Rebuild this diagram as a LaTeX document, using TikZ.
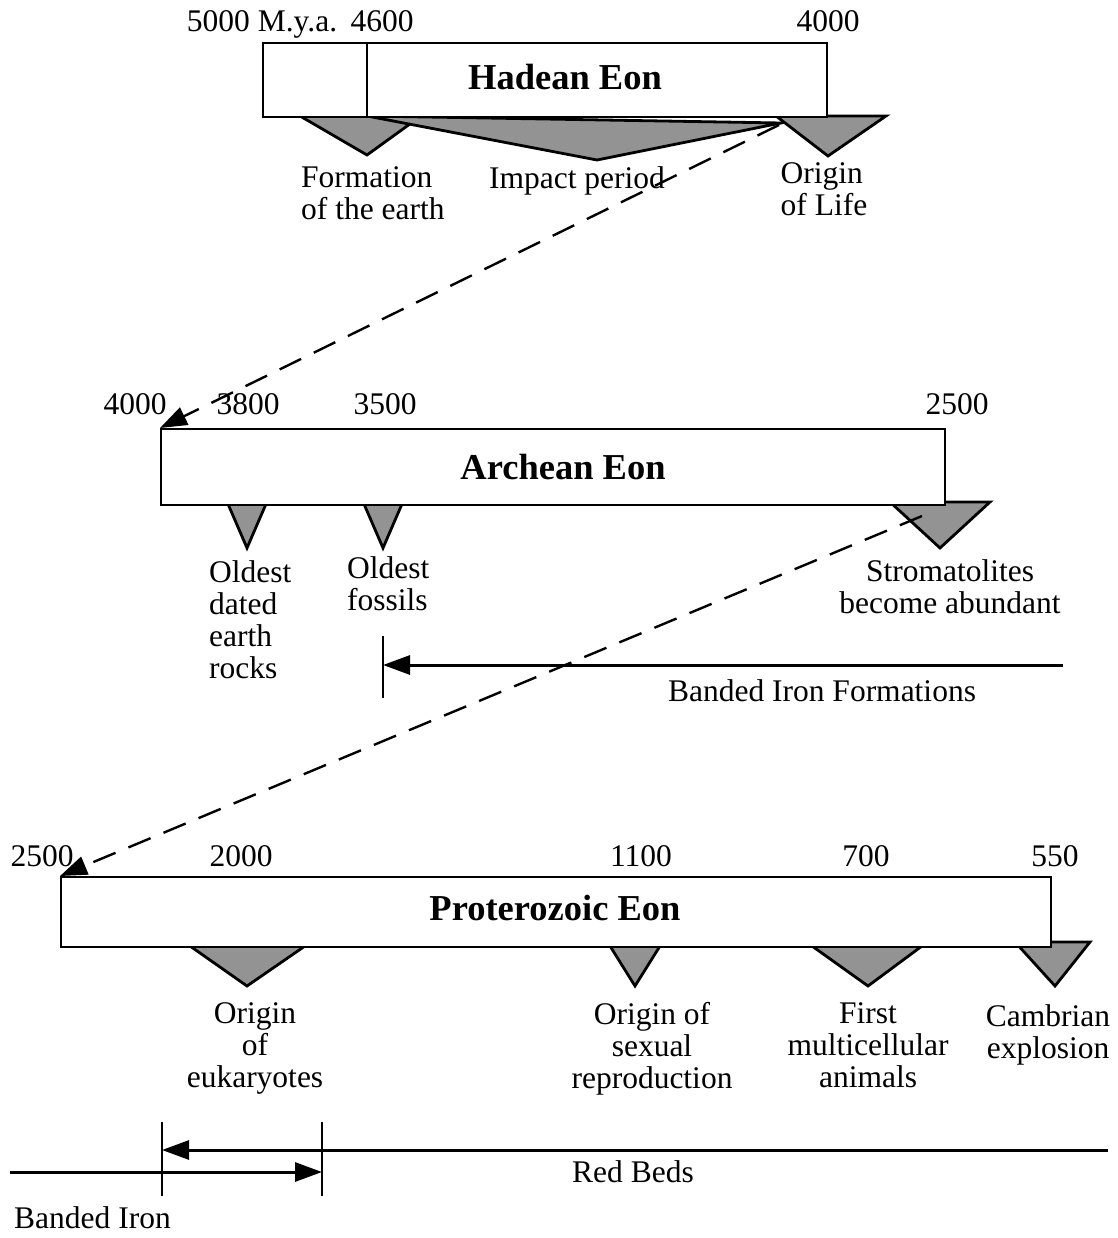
\documentclass[tikz,border=0pt]{standalone}
\usepackage{fontspec}
\setmainfont{Liberation Serif}
\usetikzlibrary{arrows.meta}
\begin{document}
\begin{tikzpicture}[x=1pt,y=-1pt,
 eon/.style={draw,line width=2pt,fill=white,inner sep=0pt,anchor=north west},
 eontitle/.style={font=\fontsize{36.5}{40}\selectfont\bfseries,inner sep=0pt},
 tri/.style={draw,line width=2.8pt,fill=gray!85,line join=miter},
 lbl/.style={font=\fontsize{31.5}{32}\selectfont,inner sep=0pt},
 num/.style={font=\fontsize{31.5}{32}\selectfont,inner sep=0pt,anchor=base},
 dashline/.style={line width=2.4pt,dash pattern=on 24pt off 14pt},
 arrtip/.style={-{Triangle[length=27pt,width=19pt]}},
 tickbar/.style={line width=1.3pt},
 spanline/.style={line width=3pt}]
\useasboundingbox (0,0) rectangle (1117,1238);

% ---------- Hadean ----------
\fill[tri] (300,116) -- (421,116) -- (367,155) -- cycle;
\fill[tri] (367,116) -- (781,123) -- (597,160) -- cycle;
\fill[tri] (776,116) -- (886,116) -- (828,156) -- cycle;
\node[eon,minimum width=564pt,minimum height=74pt] (hbox) at (262,42) {};
\draw[line width=2pt] (367,42) -- (367,116);
\node[eontitle] (htitle) at (565,77) {Hadean Eon};
\node[num] (h5000) at (262,32) {5000 M.y.a.};
\node[num] (h4600) at (382,32) {4600};
\node[num] (h4000) at (828,32) {4000};
\node[lbl,anchor=north west,align=left] (hform) at (301,166) {Formation\\of the earth};
\node[lbl,anchor=north] (himp) at (577,166) {Impact period};
\node[lbl,anchor=north,align=left] (horig) at (824,162) {Origin\\of Life};

% ---------- Archean ----------
\fill[tri] (228,504) -- (266,504) -- (247,548) -- cycle;
\fill[tri] (364,504) -- (402,504) -- (383,548) -- cycle;
\fill[tri] (890,502) -- (990,502) -- (940,548) -- cycle;
\node[eon,minimum width=784pt,minimum height=76pt] (abox) at (160,428) {};
\node[eontitle] (atitle) at (563,467) {Archean Eon};
\node[num] (a4000) at (135,414) {4000};
\node[num] (a3800) at (248,414) {3800};
\node[num] (a3500) at (385,414) {3500};
\node[num] (a2500) at (957,414) {2500};
\node[lbl,anchor=north west,align=left] (arocks) at (209,560) {Oldest\\dated\\earth\\rocks};
\node[lbl,anchor=north west,align=left] (afoss) at (347,556) {Oldest\\fossils};
\node[lbl,anchor=north,align=center] (astrom) at (950,559) {Stromatolites\\become abundant};

\coordinate (bifT) at (383,636);
\coordinate (bifB) at (383,698);
\coordinate (bifM) at (383,665);
\coordinate (bifR) at (1063,665);
\draw[tickbar] (bifT) -- (bifB);
\draw[spanline,arrtip] (bifR) -- (bifM);
\node[lbl,anchor=north] (abif) at (822,679) {Banded Iron Formations};

% ---------- Proterozoic ----------
\fill[tri] (190,946) -- (305,946) -- (247,986) -- cycle;
\fill[tri] (610,946) -- (660,946) -- (635,986) -- cycle;
\fill[tri] (812,946) -- (922,946) -- (868,986) -- cycle;
\fill[tri] (1015,942) -- (1090,942) -- (1055,986) -- cycle;
\node[eon,minimum width=990pt,minimum height=70pt] (pbox) at (60,876) {};
\node[eontitle] (ptitle) at (555,908) {Proterozoic Eon};
\node[num] (p2500) at (42,866) {2500};
\node[num] (p2000) at (241,866) {2000};
\node[num] (p1100) at (641,866) {1100};
\node[num] (p700) at (866,866) {700};
\node[num] (p550) at (1055,866) {550};
\node[lbl,anchor=north,align=center] (peuk) at (255,1002) {Origin\\of\\eukaryotes};
\node[lbl,anchor=north,align=center] (psex) at (652,1002) {Origin of\\sexual\\reproduction};
\node[lbl,anchor=north,align=center] (pmulti) at (868,1002) {First\\multicellular\\animals};
\node[lbl,anchor=north,align=center] (pcamb) at (1048,1004) {Cambrian\\explosion};

% ---------- bottom ranges ----------
\coordinate (v1t) at (162,1122);
\coordinate (v1b) at (162,1196);
\coordinate (v2t) at (322,1122);
\coordinate (v2b) at (322,1196);
\coordinate (rbR) at (1108,1150);
\coordinate (rbL) at (162,1150);
\coordinate (biL) at (10,1172);
\coordinate (biR) at (322,1172);
\draw[tickbar] (v1t) -- (v1b);
\draw[tickbar] (v2t) -- (v2b);
\draw[spanline,arrtip] (rbR) -- (rbL);
\draw[spanline,arrtip] (biL) -- (biR);
\node[lbl,anchor=north] (redbeds) at (633,1160) {Red Beds};
\node[lbl,anchor=north west] (bandiron) at (14,1206) {Banded Iron};

% ---------- dashed connectors ----------
\coordinate (d1s) at (779,125);
\coordinate (d2s) at (922,516);
\draw[dashline,arrtip] (d1s) -- (abox.north west);
\draw[dashline,arrtip] (d2s) -- (pbox.north west);
\end{tikzpicture}
\end{document}
